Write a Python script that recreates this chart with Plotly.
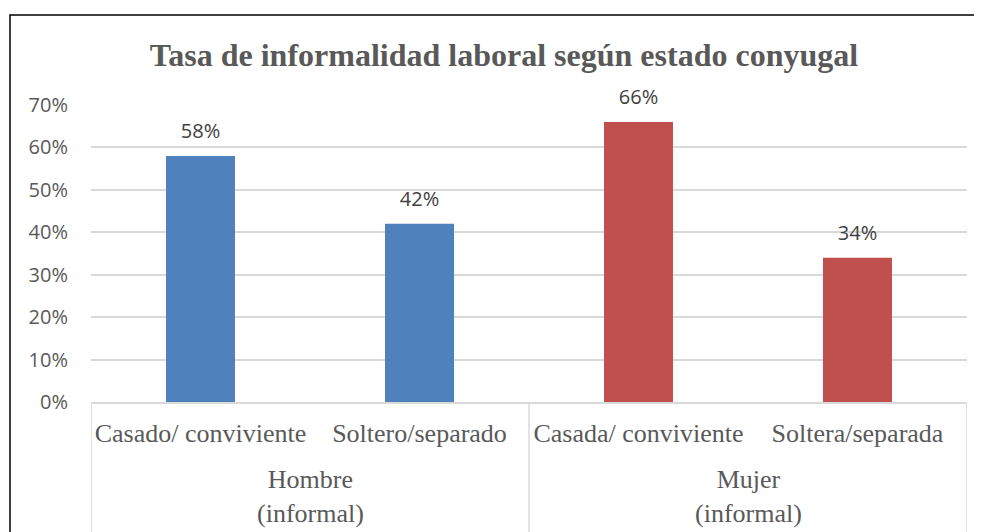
import plotly.graph_objects as go

group_names = ["Hombre<br>(informal)", "Mujer<br>(informal)"]
groups = ["Hombre<br>(informal)", "Hombre<br>(informal)", "Mujer<br>(informal)", "Mujer<br>(informal)"]
categories = ["Casado/ conviviente", "Soltero/separado", "Casada/ conviviente", "Soltera/separada"]
values = [0.58, 0.42, 0.66, 0.34]
labels = ["58%", "42%", "66%", "34%"]
colors = ["#4F81BD", "#4F81BD", "#C0504D", "#C0504D"]
y_ticks = [0, 0.1, 0.2, 0.3, 0.4, 0.5, 0.6, 0.7]

W, H = 982, 532
OFF = 8  # page body margin
L, R, T, B = 91 - OFF, 15 + OFF, 105 - OFF, 130 + OFF

fig = go.Figure()
fig.add_trace(go.Bar(
    x=categories, y=values,
    marker=dict(color=colors, line=dict(width=0)),
    width=0.315, showlegend=False, hoverinfo="skip",
))
fig.add_trace(go.Scatter(
    x=categories, y=values, mode="markers+text",
    marker=dict(size=19, opacity=0),
    text=labels, textposition="top center",
    textfont=dict(family="Open Sans, Liberation Sans, sans-serif", size=20, color="#404040"),
    showlegend=False, hoverinfo="skip", cliponaxis=False,
))

pw = W - L - R
ph = H - T - B
def fx(page_px):
    return (page_px - OFF - L) / pw
def fy(page_px):
    return (H - B - (page_px - OFF)) / ph

# group labels and dividers derived from the category/group lists
annotations = []
for g in group_names:
    idx = [i for i, gg in enumerate(groups) if gg == g]
    annotations.append(dict(
        x=sum(idx) / len(idx), xref="x", y=fy(496), yref="paper",
        text=g, showarrow=False, xanchor="center", yanchor="middle",
        font=dict(family="Liberation Serif, serif", size=26, color="#595959"),
    ))
bounds = [-0.5]
for i in range(1, len(groups)):
    if groups[i] != groups[i - 1]:
        bounds.append(i - 0.5)
bounds.append(len(groups) - 0.5)

shapes = [dict(
    type="rect", xref="paper", yref="paper",
    x0=fx(10), x1=fx(W + 20), y0=fy(15), y1=fy(H + 20),
    line=dict(color="black", width=1.5), fillcolor="rgba(0,0,0,0)", layer="above",
)]
for b in bounds:
    shapes.append(dict(
        type="line", xref="x", yref="paper", x0=b, x1=b, y0=0, y1=fy(H + 20),
        line=dict(color="#d9d9d9", width=1.5), layer="below",
    ))

fig.update_layout(
    width=W, height=H,
    margin=dict(l=L, r=R, t=T, b=B, autoexpand=False),
    paper_bgcolor="white", plot_bgcolor="white",
    title=dict(
        text="<b>Tasa de informalidad laboral según estado conyugal</b>",
        font=dict(family="Liberation Serif, serif", size=32, color="#595959"),
        x=fx(504), xanchor="center", xref="paper", y=1 - (55 - OFF) / H, yanchor="middle",
    ),
    annotations=annotations,
    shapes=shapes,
)
fig.update_xaxes(
    type="category", range=[-0.5, len(categories) - 0.5],
    showline=True, linecolor="#d9d9d9", linewidth=1.5,
    showgrid=False, ticks="", tickangle=0,
    ticklabelstandoff=7,
    tickfont=dict(family="Liberation Serif, serif", size=26, color="#595959"),
)
fig.update_yaxes(
    range=[0, 0.7], tickvals=y_ticks, tickformat=".0%",
    showgrid=True, gridcolor="#d9d9d9", gridwidth=1.5,
    zeroline=False, showline=False, ticks="",
    ticklabelstandoff=22,
    tickfont=dict(family="Open Sans, Liberation Sans, sans-serif", size=20, color="#595959"),
)

fig.write_html("out.html")
